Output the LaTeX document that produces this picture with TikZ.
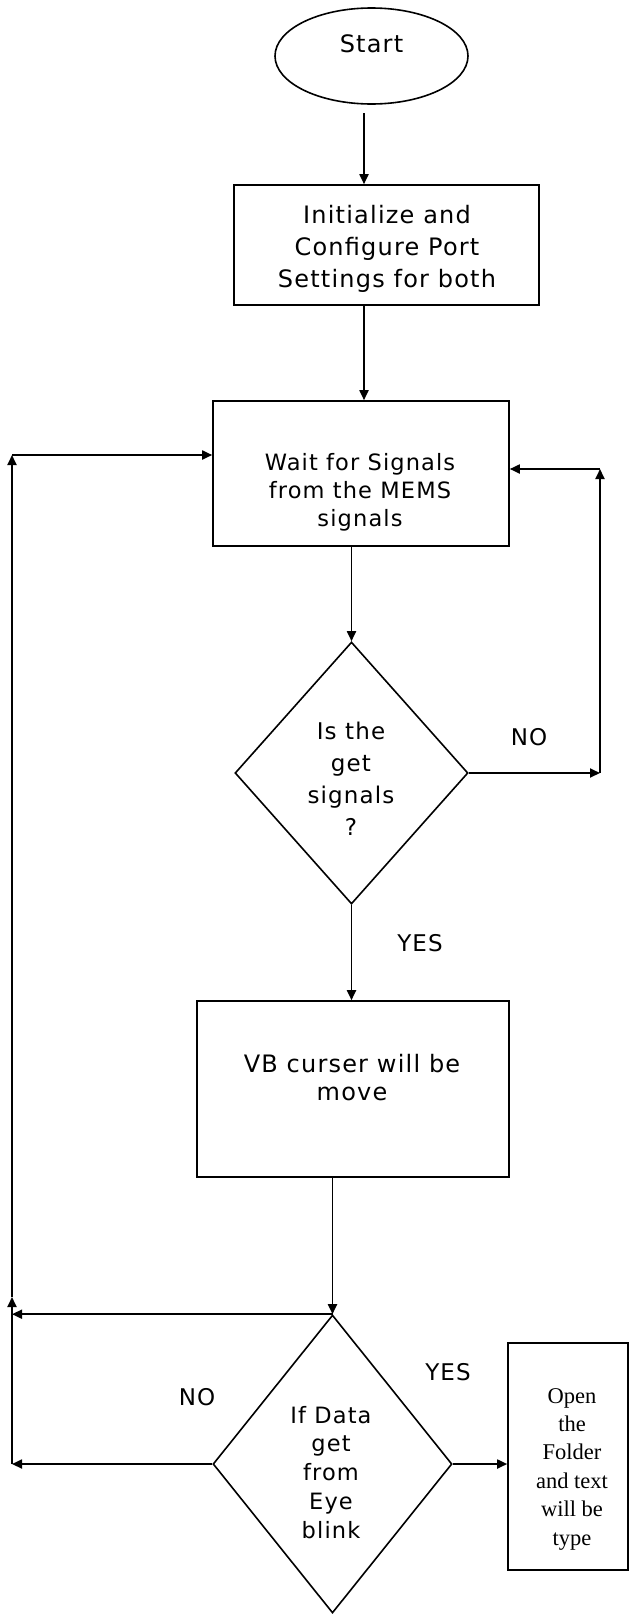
\documentclass[tikz,border=0pt]{standalone}
\usepackage{fontspec}
\setmainfont{DejaVu Sans}[LetterSpace=5]
\newfontfamily\seriffont{Liberation Serif}
\usetikzlibrary{shapes.geometric,arrows.meta}
\begin{document}
\begin{tikzpicture}[x=1pt,y=-1pt,
  shapebox/.style={draw,line width=1.6pt,inner sep=0pt,rectangle},
  dia/.style={draw,line width=1.6pt,inner sep=0pt,diamond},
  txt/.style={align=center,anchor=base,inner sep=0pt},
  lbl/.style={inner sep=0pt,font=\fontsize{23}{28}\selectfont},
  arr/.style={line width=1.8pt,-{Triangle[length=10pt,width=9pt]}},
]
\useasboundingbox (0,0) rectangle (629,1617);

% Start
\node[ellipse,draw,line width=1.6pt,minimum width=193pt,minimum height=96pt,inner sep=0pt] (start) at (371.5,56) {};
\node[txt,font=\fontsize{24}{28}\selectfont] (startT) at (371.5,52) {Start};

% Initialize
\node[shapebox,minimum width=305pt,minimum height=120pt] (init) at (386.5,245) {};
\node[txt,font=\fontsize{24}{32}\selectfont] (initT) at (387,287) {Initialize and\\Configure Port\\Settings for both};
\coordinate (s1) at (364,113);
\draw[arr] (s1) -- (s1 |- init.north);

% Wait
\node[shapebox,minimum width=296pt,minimum height=145pt] (wait) at (361,473.5) {};
\node[txt,font=\fontsize{22.5}{28}\selectfont] (waitT) at (360,526) {Wait for Signals\\from the MEMS\\signals};
\draw[arr] (init.south -| s1) -- (wait.north -| s1);

% Decision 1
\node[dia,minimum width=233pt,minimum height=262pt] (d1) at (351.5,773) {};
\node[txt,font=\fontsize{23}{31.7}\selectfont] (d1T) at (351,835) {Is the\\get\\signals\\?};
\draw[arr] (wait.south -| d1.north) -- (d1.north);
\node[lbl] (no1) at (529,737) {NO};
\coordinate (r1) at (600,773);
\coordinate (r2) at (600,469);
\draw[arr] (d1.east) -- (r1);
\draw[arr] (r1) -- (r2);
\draw[arr] (r2) -- (r2 -| wait.east);

% VB
\node[shapebox,minimum width=312pt,minimum height=176pt] (vb) at (353,1089) {};
\node[txt,font=\fontsize{24}{28}\selectfont] (vbT) at (352,1100) {VB curser will be\\move};
\draw[arr] (d1.south) -- (vb.north -| d1.south);
\node[lbl] (yes1) at (420,943) {YES};

% Decision 2
\node[dia,minimum width=239pt,minimum height=298pt] (d2) at (332.5,1464) {};
\node[txt,font=\fontsize{22.5}{28.75}\selectfont] (d2T) at (331,1538) {If Data\\get\\from\\Eye\\blink};
\draw[arr] (vb.south -| d2.north) -- (d2.north);

% Left loop
\coordinate (l1) at (12,1297);
\coordinate (l2) at (12,455);
\draw[arr] (d2.north) -- (d2.north -| l1);
\draw[arr] (d2.west) -- (d2.west -| l1);
\draw[arr] (d2.west -| l1) -- (l1);
\draw[arr] (l1) -- (l2);
\draw[arr] (l2) -- (l2 -| wait.west);
\node[lbl] (no2) at (197,1397) {NO};
\node[lbl] (yes2) at (448,1372) {YES};

% Open
\node[shapebox,minimum width=120pt,minimum height=227pt] (open) at (568,1456.5) {};
\draw[arr] (d2.east) -- (d2.east -| open.west);
\node[txt,font=\seriffont\fontsize{22.5}{28.4}\selectfont] (openT) at (572,1545) {Open\\the\\Folder\\and text\\will be\\type};
\end{tikzpicture}
\end{document}
